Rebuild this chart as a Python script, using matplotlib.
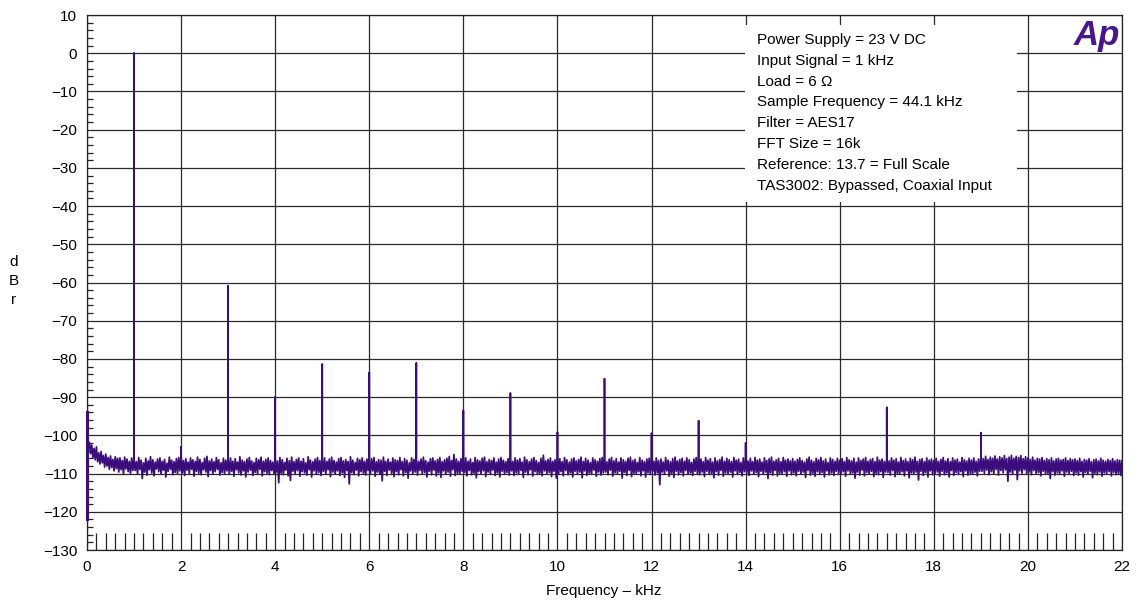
import numpy as np
import matplotlib
matplotlib.use("Agg")
import matplotlib.pyplot as plt
from matplotlib.ticker import MultipleLocator

plt.rcParams['font.family'] = ['Liberation Sans', 'DejaVu Sans']

# ---- data -------------------------------------------------------------
# noise floor read as local maxima (at 0, 0.05, ... 22 kHz) and local minima
# (at 0.025, 0.075, ... 21.975 kHz), in dBr
noise_step_khz = 0.05
noise_peak_dbr = [
    -99.0, -101.8, -102.5, -103.4, -103.0, -104.6, -104.2, -105.3, -104.9, -105.8, -105.4, -106.3, -105.6, -106.0, -105.9, -106.6, -105.7, -106.2, -106.8, -105.9,
    -106.1, -106.9, -105.8, -106.5, -107.2, -106.0, -106.7, -105.6, -106.4, -107.0, -106.2, -105.9, -106.8, -106.3, -107.3, -105.7, -106.5, -106.9, -106.1, -105.8,
    -105.3, -106.6, -106.1, -107.0, -105.9, -106.4, -106.8, -105.7, -106.3, -107.1, -106.0, -105.5, -106.7, -106.2, -106.9, -105.8, -106.4, -107.2, -106.0, -106.5,
    -106.3, -105.9, -106.8, -106.1, -107.0, -105.6, -106.5, -106.9, -106.2, -105.8, -106.7, -107.1, -106.0, -106.4, -105.7, -106.8, -106.3, -105.9, -106.6, -107.0,
    -106.2, -106.7, -105.8, -106.4, -107.1, -106.0, -106.6, -105.7, -106.9, -106.3, -105.9, -106.8, -106.1, -107.2, -105.6, -106.5, -106.9, -106.2, -105.8, -106.6,
    -106.4, -105.9, -106.8, -106.2, -105.7, -106.6, -107.0, -106.1, -105.8, -106.7, -106.3, -106.9, -105.6, -106.5, -107.1, -106.0, -106.4, -105.9, -106.8, -106.2,
    -106.7, -106.1, -105.8, -106.9, -106.3, -106.5, -105.7, -106.8, -106.2, -107.0, -105.9, -106.4, -106.6, -105.8, -106.9, -106.1, -106.5, -107.2, -105.9, -106.3,
    -106.0, -106.8, -106.2, -105.7, -106.6, -107.0, -106.1, -105.9, -106.7, -106.3, -105.8, -106.9, -106.4, -106.0, -105.5, -106.6, -105.0, -106.2, -106.8, -106.1,
    -106.5, -105.9, -106.8, -106.2, -107.1, -105.8, -106.4, -106.7, -106.0, -105.7, -106.9, -106.3, -106.6, -105.9, -107.0, -106.2, -105.8, -106.5, -106.9, -106.1,
    -106.3, -106.8, -105.9, -106.5, -106.1, -107.0, -105.7, -106.4, -106.9, -106.2, -105.8, -106.6, -107.1, -106.0, -105.2, -106.7, -106.3, -105.9, -106.8, -106.4,
    -106.6, -106.1, -106.9, -105.8, -106.4, -107.0, -106.2, -105.9, -106.7, -106.3, -105.7, -106.8, -106.0, -106.5, -107.1, -105.9, -106.4, -106.8, -106.1, -105.8,
    -106.5, -106.9, -106.2, -105.8, -106.7, -106.1, -107.0, -105.9, -106.4, -106.8, -106.0, -105.7, -106.6, -106.3, -107.1, -105.8, -106.5, -106.9, -106.2, -106.0,
    -106.4, -106.8, -105.9, -106.6, -106.2, -107.0, -105.8, -106.5, -106.9, -106.1, -105.7, -106.7, -106.3, -106.0, -106.8, -105.9, -106.4, -107.1, -106.2, -105.8,
    -106.6, -106.2, -106.9, -105.8, -106.5, -106.1, -107.0, -105.9, -106.7, -106.3, -105.7, -106.8, -106.0, -106.4, -106.9, -105.8, -106.5, -106.2, -107.1, -105.9,
    -106.3, -106.7, -106.0, -106.9, -105.8, -106.5, -106.2, -107.0, -105.9, -106.6, -106.1, -105.7, -106.8, -106.4, -106.0, -106.9, -105.8, -106.5, -106.2, -106.7,
    -106.1, -106.8, -106.3, -105.9, -106.6, -107.0, -106.2, -105.7, -106.5, -106.9, -106.0, -106.4, -105.8, -106.7, -106.2, -107.1, -105.9, -106.3, -106.8, -106.0,
    -106.5, -106.1, -106.9, -105.8, -106.4, -106.7, -106.0, -107.0, -105.9, -106.6, -106.2, -105.8, -106.8, -106.3, -106.1, -106.9, -105.7, -106.5, -106.2, -106.8,
    -106.3, -106.7, -105.9, -106.5, -106.1, -107.0, -105.8, -106.6, -106.2, -106.9, -106.0, -106.4, -105.7, -106.8, -106.3, -106.1, -106.9, -105.9, -106.5, -106.2,
    -106.6, -106.0, -106.8, -106.3, -105.8, -106.7, -106.1, -106.9, -105.9, -106.5, -106.2, -107.0, -105.8, -106.4, -106.7, -106.0, -106.5, -105.9, -106.8, -106.2,
    -105.8, -106.1, -105.5, -106.3, -105.7, -106.0, -105.4, -106.2, -105.6, -105.9, -105.3, -106.1, -105.7, -105.2, -106.0, -105.5, -105.8, -105.3, -106.1, -105.6,
    -105.9, -106.3, -105.7, -106.5, -106.0, -106.2, -105.8, -106.6, -106.1, -106.4, -105.9, -106.7, -106.2, -106.0, -106.5, -106.3, -105.9, -106.6, -106.1, -106.4,
    -106.2, -106.6, -106.0, -106.8, -106.3, -106.5, -106.1, -106.9, -106.4, -106.2, -106.7, -106.0, -106.5, -106.8, -106.3, -106.6, -106.1, -106.7, -106.4, -106.5,
    -106.6,
]
noise_trough_dbr = [
    -103.5, -104.8, -105.9, -106.4, -106.9, -107.5, -107.2, -108.3, -108.0, -108.9, -108.4, -109.3, -108.7, -109.6, -109.0, -110.2, -108.8, -109.5, -110.0, -109.2,
    -109.2, -110.1, -108.9, -111.3, -109.6, -110.4, -109.0, -109.8, -110.6, -108.8, -109.5, -110.2, -109.1, -110.9, -109.4, -108.9, -110.3, -109.7, -110.0, -109.3,
    -109.8, -110.5, -109.1, -110.0, -108.9, -110.7, -109.4, -109.9, -110.3, -109.0, -109.6, -110.8, -109.2, -110.1, -109.5, -108.9, -110.4, -109.7, -110.0, -109.3,
    -110.2, -109.4, -110.7, -109.0, -109.8, -110.4, -109.3, -110.9, -109.6, -109.1, -110.5, -109.7, -110.1, -108.9, -110.6, -109.5, -109.9, -110.3, -109.2, -110.0,
    -109.6, -112.4, -109.9, -110.3, -109.1, -110.6, -111.8, -109.4, -110.0, -109.2, -110.7, -109.5, -109.8, -110.4, -109.0, -110.9, -109.3, -110.1, -109.7, -110.5,
    -109.4, -110.2, -109.0, -110.8, -109.6, -110.1, -109.3, -110.5, -109.8, -111.0, -109.2, -112.7, -109.7, -110.3, -109.1, -110.6, -109.5, -109.9, -110.4, -109.2,
    -110.0, -109.3, -110.7, -109.6, -110.2, -111.9, -109.4, -110.5, -109.1, -109.9, -110.8, -109.5, -110.3, -109.0, -110.6, -109.7, -111.2, -109.3, -110.1, -109.6,
    -110.4, -109.2, -110.0, -109.7, -110.9, -109.4, -110.3, -109.1, -110.6, -109.8, -111.0, -109.3, -110.2, -109.6, -110.7, -109.0, -110.5, -109.9, -110.1, -109.4,
    -109.7, -110.6, -109.2, -110.3, -109.9, -111.1, -109.5, -110.0, -109.3, -110.8, -109.6, -110.2, -109.1, -110.5, -109.8, -110.9, -109.4, -110.1, -109.7, -110.4,
    -109.3, -110.5, -109.8, -110.1, -109.2, -111.0, -109.6, -110.3, -109.0, -110.7, -109.5, -110.2, -109.9, -110.6, -109.3, -110.0, -109.7, -110.8, -109.4, -111.2,
    -110.1, -109.5, -110.6, -109.2, -110.3, -109.8, -110.9, -109.4, -110.0, -109.6, -111.1, -109.3, -110.5, -109.9, -110.2, -109.1, -110.7, -109.6, -110.4, -109.8,
    -109.6, -110.3, -109.1, -110.7, -109.8, -110.0, -109.4, -111.2, -109.7, -110.5, -109.2, -110.8, -109.9, -110.1, -109.5, -110.6, -109.3, -110.9, -109.8, -110.2,
    -109.5, -110.4, -109.8, -112.9, -109.6, -110.2, -109.3, -110.7, -109.9, -111.0, -109.4, -110.3, -109.7, -110.6, -109.2, -110.1, -109.8, -110.5, -109.4, -110.0,
    -110.3, -109.6, -110.8, -109.4, -110.1, -109.9, -111.1, -109.5, -110.4, -109.2, -110.7, -109.8, -110.0, -109.6, -110.9, -109.3, -110.2, -109.7, -110.6, -109.5,
    -109.9, -110.5, -109.3, -110.2, -109.7, -110.8, -109.4, -110.1, -109.6, -111.3, -109.8, -110.4, -109.2, -110.6, -109.9, -110.0, -109.5, -110.7, -109.3, -110.3,
    -109.8, -110.6, -109.4, -110.1, -109.6, -111.0, -109.2, -110.4, -109.9, -110.7, -109.5, -110.2, -109.7, -110.9, -109.3, -110.3, -109.8, -110.5, -109.4, -110.0,
    -110.2, -109.5, -110.7, -109.3, -110.0, -109.8, -111.2, -109.6, -110.4, -109.1, -110.6, -109.7, -110.1, -109.4, -110.8, -109.9, -110.3, -109.5, -111.0, -109.6,
    -109.7, -110.4, -109.2, -110.8, -109.9, -110.1, -109.5, -110.6, -109.3, -111.1, -109.8, -110.2, -109.6, -111.7, -109.4, -110.5, -109.7, -110.9, -109.3, -110.3,
    -110.0, -109.6, -110.7, -109.4, -110.3, -109.8, -110.9, -109.2, -110.5, -109.7, -110.1, -109.5, -110.8, -109.3, -110.4, -109.9, -110.2, -109.6, -110.6, -109.4,
    -109.4, -109.9, -109.1, -110.3, -109.5, -110.0, -108.9, -110.4, -109.2, -109.8, -109.0, -112.0, -109.6, -110.2, -109.1, -111.6, -109.3, -109.9, -109.0, -110.1,
    -109.6, -110.3, -109.2, -110.0, -109.7, -110.6, -109.4, -110.1, -109.9, -111.3, -109.5, -110.4, -109.8, -110.2, -109.3, -110.7, -109.6, -110.0, -109.4, -110.5,
    -109.8, -110.4, -109.5, -110.9, -109.7, -110.2, -109.4, -111.1, -109.9, -110.3, -109.6, -110.7, -109.8, -110.0, -109.5, -110.6, -109.7, -110.3, -109.9, -110.5,
]

# DC bins at 0 Hz (top and bottom of the vertical trace)
dc_dbr = [-94.0, -122.0]

# spectral lines: fundamental and harmonics
peak_khz = [1, 2, 3, 4, 5, 6, 7, 8, 9, 10, 11, 12, 13, 14, 17, 19]
peak_dbr = [0.0, -103.0, -60.9, -90.0, -81.4, -83.6, -81.1, -93.5, -89.0, -99.2,
            -85.2, -99.5, -96.2, -102.0, -92.7, -99.3]

info_lines = [
    "Power Supply = 23 V DC",
    "Input Signal = 1 kHz",
    "Load = 6 \u03a9",
    "Sample Frequency = 44.1 kHz",
    "Filter = AES17",
    "FFT Size = 16k",
    "Reference: 13.7 = Full Scale",
    "TAS3002: Bypassed, Coaxial Input",
]

x_ticks = [0, 2, 4, 6, 8, 10, 12, 14, 16, 18, 20, 22]
y_ticks = list(range(10, -131, -10))

# ---- build trace ------------------------------------------------------
pk = dict(zip(peak_khz, peak_dbr))
fx, fy = [], []
for i, v in enumerate(noise_peak_dbr):
    f = i * noise_step_khz
    key = int(round(f))
    if abs(f - key) < 1e-6 and key in pk:
        fx += [f, f, f]
        fy += [v, pk[key], v]
    else:
        fx.append(f)
        fy.append(v)
    if i < len(noise_trough_dbr):
        fx.append(f + noise_step_khz / 2)
        fy.append(noise_trough_dbr[i])

# ---- figure -----------------------------------------------------------
fig = plt.figure(figsize=(11.41, 6.04), dpi=100)
ax = fig.add_axes([87 / 1141, 1 - 550 / 604, (1122 - 87) / 1141, (550 - 15) / 604])

line_color = '#3a0c7c'
ax.plot(fx, fy, color=line_color, lw=1.25, zorder=3)
ax.plot([0, 0], dc_dbr, color=line_color, lw=2.2, zorder=3, clip_on=False)

ax.set_xlim(0, 22)
ax.set_ylim(-130, 10)
ax.set_xticks(x_ticks)
ax.set_yticks(y_ticks)
ax.set_yticklabels([str(t).replace('-', '\u2212') for t in y_ticks])
ax.xaxis.set_minor_locator(MultipleLocator(0.2))
ax.yaxis.set_minor_locator(MultipleLocator(2))
ax.tick_params(axis='both', which='major', length=0, labelsize=11, pad=7)
ax.tick_params(axis='x', which='minor', direction='in', length=12, width=0.9,
               color='#222222', bottom=True, top=False)
ax.tick_params(axis='y', which='minor', direction='in', length=4.5, width=0.9,
               color='#222222', left=True, right=False)
ax.grid(True, which='major', color='#2a2a2a', lw=0.9)
ax.set_axisbelow(True)
for s in ax.spines.values():
    s.set_color('#222222')
    s.set_linewidth(0.9)

# info box
box_x0 = (745 - 87) / (1122 - 87)
box_x1 = (1017 - 87) / (1122 - 87)
box_y1 = (550 - 25) / 535
box_y0 = (550 - 202) / 535
ax.add_patch(plt.Rectangle((box_x0, box_y0), box_x1 - box_x0, box_y1 - box_y0,
                           transform=ax.transAxes, facecolor='white',
                           edgecolor='none', zorder=2.5))
for i, t in enumerate(info_lines):
    ax.text((757 - 87) / (1122 - 87), (550 - 40 - i * 20.8) / 535, t,
            transform=ax.transAxes, fontsize=11, va='center', ha='left', zorder=4)

# Ap logo
ax.text(0.9985, (550 - 35) / 535, "Ap", transform=ax.transAxes, fontsize=25,
        fontweight='bold', fontstyle='italic', color='#4a1590', ha='right',
        va='center', zorder=4)

fig.text(604 / 1141, 1 - 591 / 604, "Frequency \u2013 kHz", ha='center', va='center', fontsize=11)
fig.text(14 / 1141, 1 - 281 / 604, "d\nB\nr", ha='center', va='center', fontsize=11,
         linespacing=1.45)

fig.savefig("out.png", dpi=100)
